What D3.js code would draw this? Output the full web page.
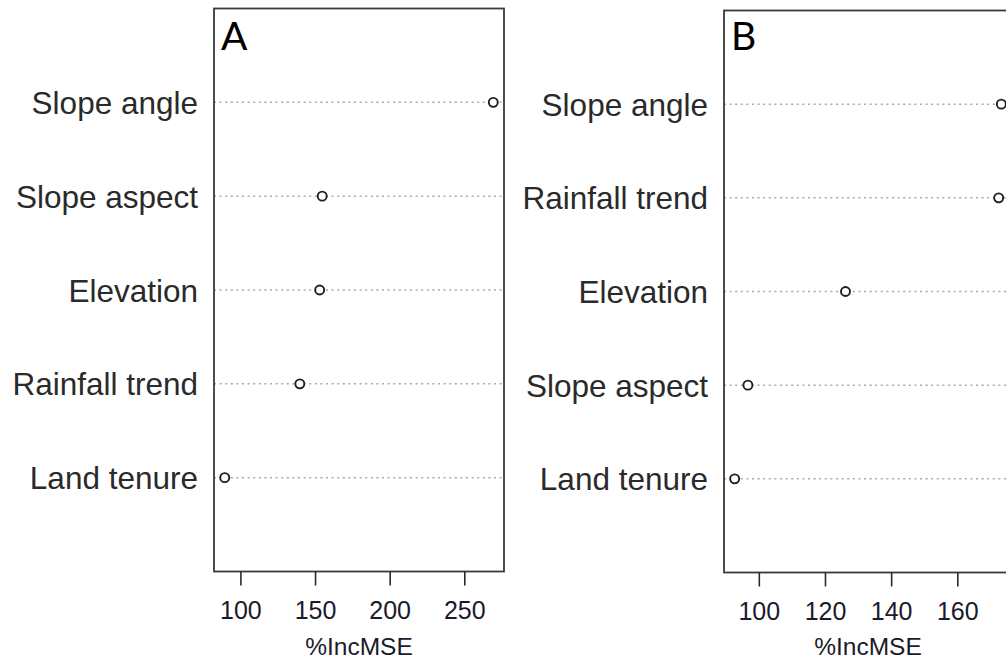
<!DOCTYPE html>
<html>
<head>
<meta charset="utf-8">
<script src="https://cdn.jsdelivr.net/npm/d3@7"></script>
<style>
  html, body { margin: 0; padding: 0; background: #fff; }
  svg { display: block; }
</style>
</head>
<body>
<svg id="chart" width="1006" height="661"></svg>
<script>
// Variable importance (%IncMSE), listed bottom row first
const categoriesA = ["Land tenure", "Rainfall trend", "Elevation", "Slope aspect", "Slope angle"];
const valuesA     = [89.5, 139.8, 153.1, 154.8, 269.4];
const ticksA      = [100, 150, 200, 250];

const categoriesB = ["Land tenure", "Slope aspect", "Elevation", "Rainfall trend", "Slope angle"];
const valuesB     = [92.7, 96.7, 126.2, 172.5, 173.3];
const ticksB      = [100, 120, 140, 160];

const axisTitle = "%IncMSE";

const svg = d3.select("#chart");

function dotchart(opts) {
  const { cats, vals, ticks, letter, left, right, top, bottom } = opts;
  const g = svg.append("g");

  // x limits padded by 4% of the data range on each side
  const [lo, hi] = d3.extent(vals);
  const pad = (hi - lo) * 0.04;
  const x = d3.scaleLinear().domain([lo - pad, hi + pad]).range([left, right]);
  // rows 1..n inside limits 0..n+1
  const y = d3.scaleLinear().domain([0, cats.length + 1]).range([bottom, top]);

  const rows = cats.map((c, i) => ({ cat: c, val: vals[i], pos: i + 1 }));

  // dotted guide lines across the plot
  g.selectAll("line.guide").data(rows).join("line")
    .attr("class", "guide")
    .attr("x1", left).attr("x2", right)
    .attr("y1", d => y(d.pos)).attr("y2", d => y(d.pos))
    .attr("stroke", "#a8a8a8")
    .attr("stroke-width", 1.5)
    .attr("stroke-dasharray", "2,3.6");

  // open circles
  g.selectAll("circle.pt").data(rows).join("circle")
    .attr("class", "pt")
    .attr("cx", d => x(d.val))
    .attr("cy", d => y(d.pos))
    .attr("r", 4.5)
    .attr("fill", "#fff")
    .attr("stroke", "#1e1e1e")
    .attr("stroke-width", 1.9);

  // category labels
  g.selectAll("text.cat").data(rows).join("text")
    .attr("class", "cat")
    .attr("x", left - 16)
    .attr("y", d => y(d.pos) + 11.5)
    .attr("text-anchor", "end")
    .attr("font-family", "'Liberation Sans', Arial, sans-serif")
    .attr("font-size", 31.5)
    .attr("fill", "#2a2a2a")
    .text(d => d.cat);

  // frame
  g.append("rect")
    .attr("x", left).attr("y", top)
    .attr("width", right - left).attr("height", bottom - top)
    .attr("fill", "none")
    .attr("stroke", "#3a3a3a")
    .attr("stroke-width", 1.8);

  // bottom axis
  const axis = d3.axisBottom(x).tickValues(ticks).tickSize(14).tickPadding(16).tickFormat(d3.format("d"));
  const ag = g.append("g").attr("transform", `translate(0,${bottom})`).call(axis);
  ag.select(".domain").remove();
  ag.selectAll(".tick line").attr("stroke", "#2a2a2a").attr("stroke-width", 1.6);
  ag.selectAll(".tick text")
    .attr("font-family", "'Liberation Sans', Arial, sans-serif")
    .attr("font-size", 25)
    .attr("fill", "#1a1a2a");

  // axis title
  g.append("text")
    .attr("x", (left + right) / 2)
    .attr("y", 655)
    .attr("text-anchor", "middle")
    .attr("font-family", "'Liberation Sans', Arial, sans-serif")
    .attr("font-size", 24.5)
    .attr("fill", "#1a1a2a")
    .text(axisTitle);

  // panel letter
  g.append("text")
    .attr("x", left + 7)
    .attr("y", 50)
    .attr("font-family", "Lato, 'Open Sans', sans-serif")
    .attr("font-size", 39)
    .attr("fill", "#000")
    .text(letter);
}

dotchart({ cats: categoriesA, vals: valuesA, ticks: ticksA, letter: "A",
           left: 214, right: 504, top: 8.5, bottom: 571.5 });
dotchart({ cats: categoriesB, vals: valuesB, ticks: ticksB, letter: "B",
           left: 724, right: 1012, top: 10.5, bottom: 572.5 });
</script>
</body>
</html>
